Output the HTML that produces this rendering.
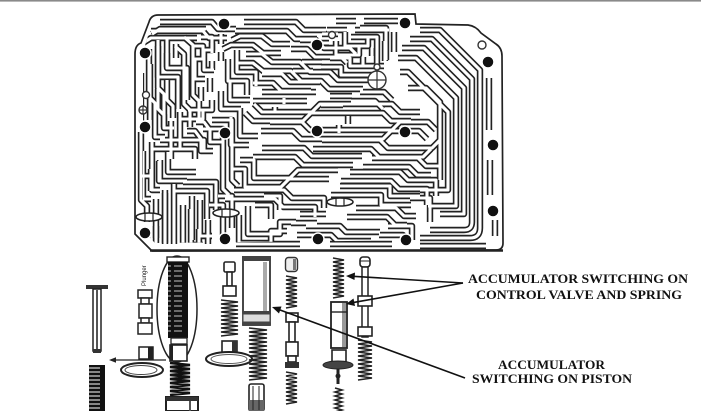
<!DOCTYPE html>
<html><head><meta charset="utf-8"><style>
html,body{margin:0;padding:0;background:#fff;}
svg{display:block;}
</style></head><body>
<svg width="701" height="411" viewBox="0 0 701 411" xmlns="http://www.w3.org/2000/svg" xmlns:xlink="http://www.w3.org/1999/xlink">
<rect x="0" y="0" width="701" height="411" fill="#fff"/>
<rect x="0" y="0" width="701" height="1.6" fill="#8a8a8a"/>

<!-- valve body outline -->
<path d="M135,54 Q135,45 141,43 L149,22 Q151,15 158,15 L415,14 L416,24 L468,25 Q476,26 481,33 L496,44 Q502,48 502,56 L503,243 Q503,250 496,250 L152,251 L135,234 Z" fill="#fff" stroke="#222" stroke-width="1.7"/>
<line x1="150" y1="250.5" x2="503" y2="250.5" stroke="#222" stroke-width="2.4"/>

<defs>
<clipPath id="bc"><path d="M143,52 L152,23 L410,21 L411,31 L466,32 L440,40 L440,240 L155,243 L143,231 Z"/></clipPath>
<g id="ch" fill="none" stroke-linejoin="round" stroke-linecap="butt">
<!-- top edge -->
<path d="M160,22 H212 L218,29 H236"/>
<path d="M244,22 H296 L304,30 H326"/>
<path d="M336,21 H356"/>
<path d="M364,21 H398"/>
<!-- top-left -->
<path d="M152,34 L160,29 H206"/>
<path d="M150,64 V120"/>
<path d="M158,40 V88 L164,94 V128 H174"/>
<path d="M167,37 V68 H187 V100"/>
<path d="M176,44 V58"/>
<path d="M167,80 V100 L173,106 V118"/>
<path d="M184,37 L193,45 V95 L199,101 V118"/>
<path d="M201,37 H212 V50 H204 V70 H214"/>
<path d="M210,78 V92"/>
<path d="M180,112 V150"/>
<path d="M188,110 H212 V100"/>
<!-- top-center -->
<path d="M221,34 V44"/>
<path d="M221,52 V61"/>
<path d="M232,40 L240,36 H262 L272,44 H290"/>
<path d="M237,50 V72 H256 V86"/>
<path d="M246,54 H262 L272,62 H300 L310,72 H330 L338,80 H372"/>
<path d="M262,74 H282 L290,82 H320"/>
<path d="M230,82 V100 H250"/>
<path d="M262,92 H316"/>
<path d="M300,40 H316 L324,48 H350 L356,54"/>
<path d="M322,34 H338"/>
<path d="M345,32 V46 H368 V38"/>
<path d="M360,28 H386 V60"/>
<path d="M330,58 H350 V66 H384"/>
<path d="M372,48 V56"/>
<path d="M394,32 V52"/>
<path d="M360,92 H384 L392,100"/>
<path d="M302,62 H322"/>
<!-- middle -->
<path d="M240,108 V136 H258"/>
<path d="M254,104 L262,112 H312 L320,104 H392 L400,112 H420"/>
<path d="M270,122 H302 L310,130 H392 L400,122 H428 L436,130"/>
<path d="M330,96 H352"/>
<path d="M322,140 H380 L388,148 H432 L440,140"/>
<path d="M262,148 H304 L312,156 H362"/>
<path d="M372,158 H418 L426,166 H440"/>
<path d="M240,160 H254 V178 H290 L298,170 H338"/>
<path d="M350,172 H400 L408,180 H436 V196"/>
<path d="M234,190 H284 L292,198 H324 V208"/>
<path d="M340,186 H390 V196 H420"/>
<path d="M300,214 H326"/>
<path d="M356,208 H396 L404,216 H416"/>
<path d="M248,206 V234 H280 V222 H296"/>
<path d="M306,226 H340 L346,232 H380"/>
<path d="M388,226 H412 V240"/>
<path d="M264,196 H280 V210"/>
<path d="M236,244 H300"/>
<path d="M330,244 H392"/>
<path d="M284,104 V98"/>
<path d="M348,116 V124"/>
<!-- left lower -->
<path d="M141,132 V200 L147,206 V222"/>
<path d="M152,142 V190 H160"/>
<path d="M160,140 H204 V150"/>
<path d="M168,152 V172 H196"/>
<path d="M160,160 V182"/>
<path d="M165,190 V244"/>
<path d="M174,184 V244"/>
<path d="M183,182 H216 V210"/>
<path d="M192,196 V240"/>
<path d="M200,200 V236 H212"/>
<path d="M156,226 V238"/>
<path d="M208,220 V244"/>
<path d="M212,120 H232 V180 L238,186"/>
<path d="M218,196 H232 V228"/>
<path d="M196,122 H204 L210,130 V142 H222"/>
<path d="M142,176 H150"/>
</g>
<g id="chR" fill="none" stroke-linejoin="round" stroke-linecap="butt">
<path d="M420,30 H440 L480,70 V228 Q480,238 470,238 H420"/>
<path d="M410,39 H432 L472,79 V222 Q472,230 464,230 H430"/>
<path d="M402,48 H424 L464,88 V214 H440"/>
<path d="M398,58 H416 L456,98 V206 H428"/>
<path d="M400,72 H408 L448,112 V190 H420"/>
<path d="M489,78 V130"/>
<path d="M490,160 V195"/>
<path d="M495,220 V236"/>
<path d="M420,246 H486"/>
<path d="M408,88 H426 L440,102 V180"/>
<path d="M410,198 H430 V222"/>
</g>
</defs>
<use xlink:href="#ch" href="#ch" stroke="#222" stroke-width="6.4"/>
<use xlink:href="#chR" href="#chR" stroke="#222" stroke-width="6.4"/>
<g clip-path="url(#bc)"><use xlink:href="#ch" href="#ch" transform="translate(-9,9)" stroke="#222" stroke-width="6.4"/></g>
<use xlink:href="#ch" href="#ch" stroke="#fff" stroke-width="3.1"/>
<use xlink:href="#chR" href="#chR" stroke="#fff" stroke-width="3.1"/>
<g clip-path="url(#bc)"><use xlink:href="#ch" href="#ch" transform="translate(-9,9)" stroke="#fff" stroke-width="3.1"/></g>

<!-- dots -->
<g fill="#111" stroke="#fff" stroke-width="1.5">
<circle cx="224" cy="24" r="6"/>
<circle cx="405" cy="23" r="6"/>
<circle cx="145" cy="53" r="6"/>
<circle cx="317" cy="45" r="6"/>
<circle cx="488" cy="62" r="6"/>
<circle cx="145" cy="127" r="6"/>
<circle cx="225" cy="133" r="6"/>
<circle cx="317" cy="131" r="6"/>
<circle cx="405" cy="132" r="6"/>
<circle cx="493" cy="145" r="6"/>
<circle cx="493" cy="211" r="6"/>
<circle cx="145" cy="233" r="6"/>
<circle cx="225" cy="239" r="6"/>
<circle cx="318" cy="239" r="6"/>
<circle cx="406" cy="240" r="6"/>
</g>
<!-- small circles / crosshairs -->
<g fill="#fff" stroke="#333" stroke-width="1.4">
<circle cx="332" cy="35" r="3.5"/>
<circle cx="377" cy="80" r="9"/>
<circle cx="377" cy="67" r="3"/>
<circle cx="146" cy="95" r="3.5"/>
<circle cx="143" cy="110" r="4"/>
<circle cx="482" cy="45" r="4"/>
</g>
<g stroke="#333" stroke-width="1.2">
<line x1="368" y1="80" x2="386" y2="80"/><line x1="377" y1="71" x2="377" y2="89"/>
<line x1="139" y1="110" x2="147" y2="110"/><line x1="143" y1="106" x2="143" y2="114"/>
</g>
<!-- ovals -->
<g fill="#fff" stroke="#222" stroke-width="1.6">
<ellipse cx="149" cy="217" rx="13" ry="4"/>
<ellipse cx="226" cy="213" rx="13" ry="4"/>
<ellipse cx="340" cy="202" rx="13" ry="4"/>
</g>
<g stroke="#222" stroke-width="1.2">
<line x1="145" y1="213" x2="145" y2="221"/><line x1="153" y1="213" x2="153" y2="221"/>
<line x1="222" y1="209" x2="222" y2="217"/><line x1="230" y1="209" x2="230" y2="217"/>
<line x1="336" y1="198" x2="336" y2="206"/><line x1="344" y1="198" x2="344" y2="206"/>
</g>

<!-- ===== bottom components ===== -->
<!-- left pin -->
<rect x="86" y="285" width="22" height="4" fill="#333"/>
<rect x="93" y="289" width="8" height="62" fill="#fff" stroke="#222" stroke-width="1.5"/>
<line x1="97" y1="290" x2="97" y2="350" stroke="#555" stroke-width="2"/>
<rect x="93" y="349" width="8" height="4" fill="#333"/>
<!-- bottom-left black spring -->
<rect x="89" y="365" width="16" height="46" fill="#111"/>
<path d="M89,368 h16 m-16,4 h16 m-16,4 h16 m-16,4 h16 m-16,4 h16 m-16,4 h16 m-16,4 h16 m-16,4 h16 m-16,4 h16 m-16,4 h16 m-16,4 h16" stroke="#fff" stroke-width="0.9" stroke-dasharray="11 5"/>
<!-- arrow left -->
<line x1="166" y1="360" x2="114" y2="360" stroke="#222" stroke-width="1.2"/>
<polygon points="109,360 116,357.3 116,362.7" fill="#222"/>
<!-- washer -->
<ellipse cx="142" cy="370" rx="21" ry="7" fill="#fff" stroke="#222" stroke-width="2"/>
<ellipse cx="141" cy="370" rx="16" ry="4.5" fill="none" stroke="#444" stroke-width="1"/>
<!-- small valve col0 -->
<text transform="translate(146,286) rotate(-90)" font-family="Liberation Sans, sans-serif" font-size="6" fill="#222">Plunger</text>
<g fill="#fff" stroke="#222" stroke-width="1.5">
<rect x="138" y="290" width="14" height="8"/>
<rect x="141" y="298" width="8" height="6"/>
<rect x="139" y="304" width="13" height="14"/>
<rect x="141" y="318" width="8" height="5"/>
<rect x="138" y="323" width="14" height="11"/>
<rect x="139" y="347" width="14" height="12"/>
</g>
<rect x="148" y="347" width="5" height="12" fill="#222"/>
<!-- big ellipse -->
<ellipse cx="177" cy="309" rx="20" ry="53" fill="none" stroke="#222" stroke-width="1.5"/>
<rect x="167" y="257" width="22" height="5" fill="#fff" stroke="#222" stroke-width="1.4"/>
<rect x="168" y="262" width="20" height="76" fill="#111"/>
<path d="M168,266 h20 m-20,5 h20 m-20,5 h20 m-20,5 h20 m-20,5 h20 m-20,5 h20 m-20,5 h20 m-20,5 h20 m-20,5 h20 m-20,5 h20 m-20,5 h20 m-20,5 h20 m-20,5 h20 m-20,5 h20" stroke="#fff" stroke-width="0.8" stroke-dasharray="3 3 8 6"/>
<rect x="171" y="338" width="16" height="6" fill="#fff" stroke="#222" stroke-width="1.3"/>
<rect x="170" y="345" width="17" height="16" fill="#fff" stroke="#222" stroke-width="1.6"/>
<rect x="170" y="345" width="3" height="16" fill="#222"/>
<!-- spring below ellipse -->
<path d="M170,363 l20,2 l-20,2 l20,2 l-20,2 l20,2 l-20,2 l20,2 l-20,2 l20,2 l-20,2 l20,2 l-20,2 l20,2 l-20,2 l20,2 l-20,2" fill="none" stroke="#111" stroke-width="2.4"/>
<rect x="166" y="397" width="32" height="14" fill="#fff" stroke="#222" stroke-width="2"/>
<rect x="166" y="397" width="32" height="4" fill="#333"/>
<line x1="190" y1="401" x2="190" y2="411" stroke="#555" stroke-width="2"/>

<!-- col1 -->
<g fill="#fff" stroke="#222" stroke-width="1.6">
<rect x="224" y="262" width="11" height="10" rx="1.5"/>
<rect x="227" y="272" width="5" height="14"/>
<rect x="223" y="286" width="13" height="10"/>
<rect x="222" y="341" width="15" height="12"/>
</g>
<rect x="232" y="341" width="5" height="12" fill="#333"/>
<path d="M221,300 l17,2 l-17,2 l17,2 l-17,2 l17,2 l-17,2 l17,2 l-17,2 l17,2 l-17,2 l17,2 l-17,2 l17,2 l-17,2 l17,2 l-17,2 l17,2 l-17,2" fill="none" stroke="#222" stroke-width="1.5"/>
<ellipse cx="229" cy="359" rx="23" ry="7" fill="#fff" stroke="#222" stroke-width="2"/>
<ellipse cx="229" cy="359" rx="18" ry="4.5" fill="none" stroke="#555" stroke-width="1"/>

<!-- piston -->
<rect x="243" y="257" width="27" height="68" fill="#fff" stroke="#333" stroke-width="1.8"/>
<rect x="263" y="262" width="4" height="50" fill="#aaa"/>
<rect x="242" y="256" width="29" height="5" fill="#444"/>
<rect x="243" y="311" width="27" height="3" fill="#444"/>
<rect x="243" y="314" width="27" height="8" fill="#ddd" stroke="#444" stroke-width="1"/>
<rect x="243" y="322" width="27" height="3" fill="#444"/>
<path d="M249,328 l18,2 l-18,2 l18,2 l-18,2 l18,2 l-18,2 l18,2 l-18,2 l18,2 l-18,2 l18,2 l-18,2 l18,2 l-18,2 l18,2 l-18,2 l18,2 l-18,2 l18,2 l-18,2 l18,2 l-18,2 l18,2 l-18,2 l18,2 l-18,2" fill="none" stroke="#222" stroke-width="1.6"/>
<rect x="249" y="384" width="15" height="27" rx="2" fill="#fff" stroke="#222" stroke-width="1.6"/>
<rect x="249" y="400" width="15" height="11" fill="#666"/>
<line x1="253" y1="386" x2="253" y2="410" stroke="#222" stroke-width="1"/>
<line x1="259" y1="386" x2="259" y2="410" stroke="#222" stroke-width="1"/>

<!-- col3 -->
<rect x="285.5" y="257.5" width="12" height="14" rx="3" fill="#eee" stroke="#333" stroke-width="1.4"/>
<rect x="293" y="259" width="3" height="11" fill="#777"/>
<path d="M286,276 l11,2 l-11,2 l11,2 l-11,2 l11,2 l-11,2 l11,2 l-11,2 l11,2 l-11,2 l11,2 l-11,2 l11,2 l-11,2 l11,2 l-11,2" fill="none" stroke="#222" stroke-width="1.6"/>
<g fill="#fff" stroke="#222" stroke-width="1.6">
<rect x="286" y="313" width="12" height="9"/>
<rect x="289" y="322" width="6" height="20"/>
<rect x="286" y="342" width="12" height="14"/>
<rect x="288" y="356" width="8" height="6"/>
</g>
<rect x="285" y="362" width="14" height="6" fill="#333"/>
<path d="M286,372 l11,2 l-11,2 l11,2 l-11,2 l11,2 l-11,2 l11,2 l-11,2 l11,2 l-11,2 l11,2 l-11,2 l11,2 l-11,2 l11,2 l-11,2" fill="none" stroke="#222" stroke-width="1.6"/>

<!-- col4 -->
<path d="M333,258 l11,2 l-11,2 l11,2 l-11,2 l11,2 l-11,2 l11,2 l-11,2 l11,2 l-11,2 l11,2 l-11,2 l11,2 l-11,2 l11,2 l-11,2 l11,2 l-11,2 l11,2 l-11,2" fill="none" stroke="#222" stroke-width="1.6"/>
<rect x="331" y="302" width="16" height="46" fill="#fff" stroke="#222" stroke-width="1.8"/>
<rect x="342" y="303" width="4" height="44" fill="#999"/>
<line x1="331" y1="312" x2="347" y2="312" stroke="#222" stroke-width="1.4"/>
<rect x="332" y="350" width="14" height="12" fill="#fff" stroke="#222" stroke-width="1.6"/>
<ellipse cx="338" cy="365" rx="15" ry="4" fill="#444" stroke="#222" stroke-width="1"/>
<line x1="338" y1="369" x2="338" y2="384" stroke="#222" stroke-width="3"/>
<circle cx="338" cy="376" r="2.5" fill="#222"/>
<path d="M335,388 l7,2 l-7,2 l7,2 l-7,2 l7,2 l-7,2 l7,2 l-7,2 l7,2 l-7,2 l7,2 l-7,2" fill="none" stroke="#222" stroke-width="1.6"/>

<!-- col5 -->
<rect x="360" y="257" width="10" height="10" rx="3" fill="#fff" stroke="#222" stroke-width="1.6"/>
<line x1="360" y1="261" x2="370" y2="261" stroke="#222" stroke-width="1"/>
<rect x="362" y="267" width="6" height="70" fill="#fff" stroke="#222" stroke-width="1.5"/>
<rect x="358" y="296" width="14" height="10" fill="#fff" stroke="#222" stroke-width="1.6"/>
<rect x="358" y="327" width="14" height="9" fill="#fff" stroke="#222" stroke-width="1.6"/>
<path d="M358,340 l14,2 l-14,2 l14,2 l-14,2 l14,2 l-14,2 l14,2 l-14,2 l14,2 l-14,2 l14,2 l-14,2 l14,2 l-14,2 l14,2 l-14,2 l14,2 l-14,2 l14,2 l-14,2" fill="none" stroke="#222" stroke-width="1.6"/>

<!-- leader arrows -->
<g stroke="#111" stroke-width="1.6">
<line x1="463" y1="283" x2="353" y2="276.3"/>
<line x1="463" y1="283" x2="353" y2="302.6"/>
<line x1="465" y1="378" x2="278" y2="309.3"/>
</g>
<g fill="#111">
<polygon points="346,276 355,272.5 354.5,280"/>
<polygon points="346,304 353.5,298.5 355,306"/>
<polygon points="272,307 281.5,306.5 279,313.5"/>
</g>

<!-- labels -->
<g font-family="Liberation Serif, serif" font-weight="bold" font-size="12.5" fill="#111">
<text x="468" y="283" textLength="220" lengthAdjust="spacingAndGlyphs">ACCUMULATOR SWITCHING ON</text>
<text x="476" y="299" textLength="206" lengthAdjust="spacingAndGlyphs">CONTROL VALVE AND SPRING</text>
<text x="498" y="369" textLength="107" lengthAdjust="spacingAndGlyphs">ACCUMULATOR</text>
<text x="472" y="383" textLength="160" lengthAdjust="spacingAndGlyphs">SWITCHING ON PISTON</text>
</g>
</svg>
</body></html>
